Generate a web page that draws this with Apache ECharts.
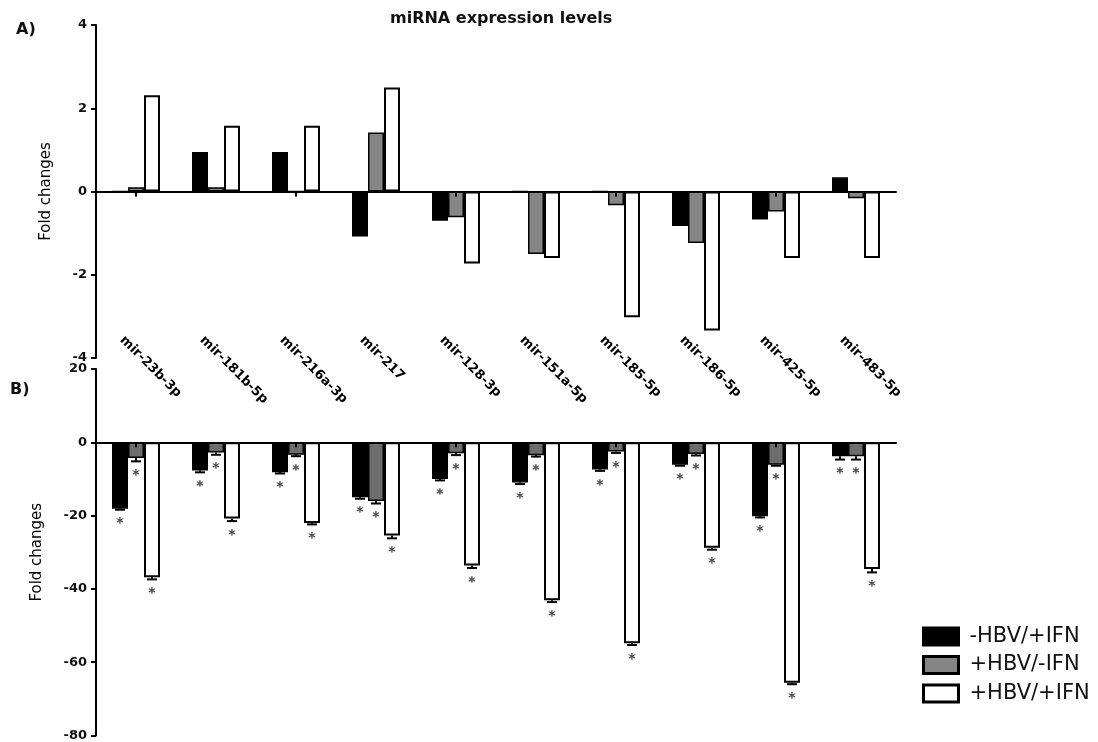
<!DOCTYPE html>
<html>
<head>
<meta charset="utf-8">
<script src="https://cdn.jsdelivr.net/npm/echarts@6/dist/echarts.min.js"></script>
<style>html,body{margin:0;padding:0;background:#fff}#c{width:1098px;height:742px}</style>
</head>
<body>
<div id="c"></div>
<script>
// ---- data ----
const categories = ['mir-23b-3p','mir-181b-5p','mir-216a-3p','mir-217','mir-128-3p','mir-151a-5p','mir-185-5p','mir-186-5p','mir-425-5p','mir-483-5p'];
const seriesNames = ['-HBV/+IFN','+HBV/-IFN','+HBV/+IFN'];
// Panel A
const aMinusHBVplusIFN = [0, 0.95, 0.95, -1.08, -0.70, 0, 0, -0.83, -0.67, 0.34];
const aPlusHBVminusIFN = [0.1, 0.1, 0, 1.42, -0.62, -1.50, -0.33, -1.24, -0.48, -0.16];
const aPlusHBVplusIFN  = [2.31, 1.58, 1.58, 2.50, -1.73, -1.60, -3.02, -3.34, -1.60, -1.60];
// Panel B
const bMinusHBVplusIFN = [-18.1, -7.7, -8.2, -15.0, -10.0, -11.0, -7.4, -6.1, -20.2, -3.8];
const bPlusHBVminusIFN = [-4.3, -2.8, -3.4, -16.0, -3.0, -3.5, -2.5, -3.2, -6.1, -3.8];
const bPlusHBVplusIFN  = [-36.8, -20.8, -22.0, -25.4, -33.6, -43.1, -54.8, -28.8, -65.6, -34.6];
// Panel B error (SEM)
const bErrMinusHBVplusIFN = [0.3, 0.5, 0.3, 0.4, 0.4, 0.4, 0.4, 0.3, 0.3, 0.9];
const bErrPlusHBVminusIFN = [0.9, 0.6, 0.4, 0.7, 0.5, 0.4, 0.4, 0.4, 0.3, 0.9];
const bErrPlusHBVplusIFN  = [0.6, 0.7, 0.4, 0.8, 0.7, 0.5, 0.5, 0.5, 0.4, 0.9];
const topTicks = [-4, -2, 0, 2, 4];
const bottomTicks = [-80, -60, -40, -20, 0, 20];

// ---- chart ----
const FONT = 'DejaVu Sans';
const BARW = 16;
const chart = echarts.init(document.getElementById('c'), null, {renderer: 'canvas'});

function yAxisCommon(gi, min, max, interval, gap) {
  return {
    type: 'value', gridIndex: gi, min: min, max: max, interval: interval,
    splitLine: {show: false},
    axisLine: {show: true, lineStyle: {color: '#000', width: 2}},
    axisTick: {show: true, length: 5, lineStyle: {color: '#000', width: 2}},
    axisLabel: {color: '#111', fontFamily: FONT, fontWeight: 'bold', fontSize: 13, margin: 9},
    name: 'Fold changes', nameLocation: 'middle', nameGap: gap, nameRotate: 90,
    nameTextStyle: {color: '#000', fontFamily: FONT, fontSize: 15}
  };
}
function xAxisCommon(gi) {
  return {
    type: 'category', gridIndex: gi, data: categories, z: 5,
    axisLine: {onZero: true, lineStyle: {color: '#000', width: 2}},
    axisTick: {show: true, alignWithLabel: true, length: 5, lineStyle: {color: '#000', width: 2}},
    axisLabel: {show: false}
  };
}
const fillsA = ['#000000', '#858585', '#ffffff'];
const fillsB = ['#000000', '#6c6c6c', '#ffffff'];
const aData = [aMinusHBVplusIFN, aPlusHBVminusIFN, aPlusHBVplusIFN];
const bData = [bMinusHBVplusIFN, bPlusHBVminusIFN, bPlusHBVplusIFN];
const bErr = [bErrMinusHBVplusIFN, bErrPlusHBVminusIFN, bErrPlusHBVplusIFN];

const series = [];
for (let s = 0; s < 3; s++) {
  series.push({
    type: 'bar', name: seriesNames[s], xAxisIndex: 0, yAxisIndex: 0,
    data: aData[s], barWidth: BARW, barGap: '0%',
    itemStyle: {color: fillsA[s], borderColor: '#000', borderWidth: s === 2 ? 2 : 1.5},
    emphasis: {disabled: true}
  });
}
for (let s = 0; s < 3; s++) {
  series.push({
    type: 'bar', name: seriesNames[s], xAxisIndex: 1, yAxisIndex: 1,
    data: bData[s], barWidth: BARW, barGap: '0%',
    itemStyle: {color: fillsB[s], borderColor: '#000', borderWidth: s === 2 ? 2 : 1.5},
    emphasis: {disabled: true}
  });
}
// error bars + significance stars for panel B
const errData = [];
for (let s = 0; s < 3; s++) {
  for (let i = 0; i < categories.length; i++) {
    errData.push([i, bData[s][i], bErr[s][i], s]);
  }
}
series.push({
  type: 'custom', xAxisIndex: 1, yAxisIndex: 1, z: 6, silent: true,
  data: errData,
  renderItem: function (params, api) {
    const i = api.value(0), v = api.value(1), e = api.value(2), s = api.value(3);
    const pv = api.coord([i, v]);
    const pe = api.coord([i, v - e]);
    const x = pv[0] + (s - 1) * BARW;
    return {
      type: 'group',
      children: [
        {type: 'line', shape: {x1: x, y1: pv[1], x2: x, y2: pe[1]}, style: {stroke: '#000', lineWidth: 2}},
        {type: 'line', shape: {x1: x - 5, y1: pe[1], x2: x + 5, y2: pe[1]}, style: {stroke: '#000', lineWidth: 2}},
        {type: 'text', style: {text: '*', x: x, y: pe[1] + 14, textAlign: 'center', textVerticalAlign: 'middle',
          fill: '#444', font: 'bold 14px "DejaVu Sans"'}}
      ]
    };
  }
});

chart.setOption({
  animation: false,
  backgroundColor: '#fff',
  grid: [
    {left: 96, top: 25, width: 800, height: 333},
    {left: 96, top: 369, width: 800, height: 368},
    {left: 82, top: 300, width: 800, height: 30}
  ],
  xAxis: [
    xAxisCommon(0),
    xAxisCommon(1),
    {type: 'category', gridIndex: 2, data: categories,
     axisLine: {show: false}, axisTick: {show: false},
     axisLabel: {interval: 0, rotate: -45, margin: 8, color: '#000', fontFamily: FONT, fontWeight: 'bold', fontSize: 13}}
  ],
  yAxis: [
    yAxisCommon(0, -4, 4, 2, 42),
    yAxisCommon(1, -80, 20, 20, 51),
    {type: 'value', gridIndex: 2, show: false}
  ],
  legend: {
    data: seriesNames, orient: 'vertical', left: 917, top: 621,
    itemWidth: 35, itemHeight: 17, itemGap: 7.5, icon: 'rect',
    itemStyle: {borderColor: '#000', borderWidth: 3},
    textStyle: {fontFamily: FONT, fontSize: 21, color: '#111', padding: [0, 0, 0, 6]},
    selectedMode: false
  },
  graphic: [
    {type: 'text', left: 502 - 112, top: 11, style: {text: 'miRNA expression levels', font: 'bold 16px "DejaVu Sans"', fill: '#111'}},
    {type: 'text', left: 16, top: 22, style: {text: 'A)', font: 'bold 16px "DejaVu Sans"', fill: '#111'}},
    {type: 'text', left: 10, top: 382, style: {text: 'B)', font: 'bold 16px "DejaVu Sans"', fill: '#111'}}
  ],
  series: series
});
</script>
</body>
</html>
